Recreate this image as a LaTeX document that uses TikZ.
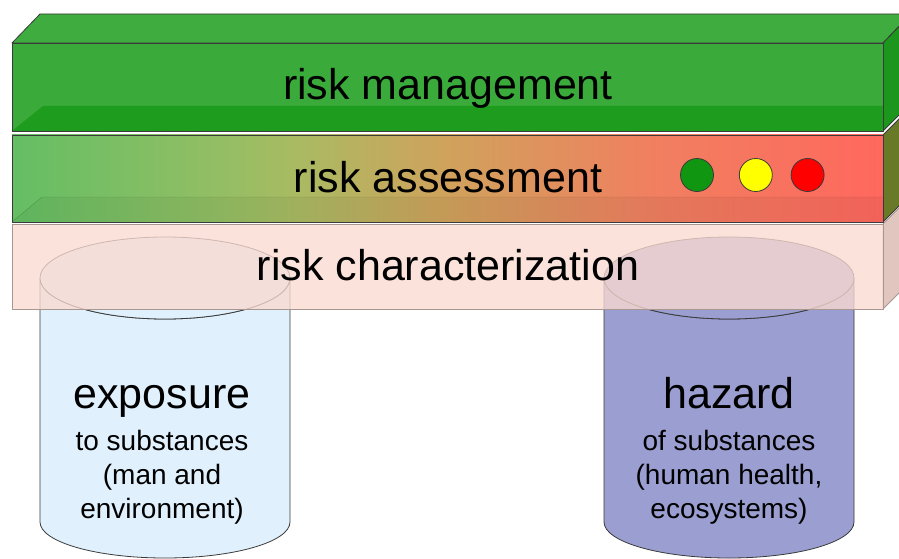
\documentclass[tikz,border=0pt]{standalone}
\usepackage{fontspec}
\setmainfont{Liberation Sans}
\usetikzlibrary{positioning}

\definecolor{edge}{RGB}{58,58,58}
\definecolor{mgmtFront}{RGB}{58,170,58}
\definecolor{mgmtTop}{RGB}{62,172,62}
\definecolor{mgmtBand}{RGB}{30,156,30}
\definecolor{mgmtSide}{RGB}{28,150,28}
\definecolor{assA}{RGB}{100,190,100}
\definecolor{assB}{RGB}{150,190,100}
\definecolor{assC}{RGB}{170,186,98}
\definecolor{assD}{RGB}{208,162,92}
\definecolor{assE}{RGB}{240,128,96}
\definecolor{assF}{RGB}{255,104,94}
\definecolor{assSide}{RGB}{104,122,40}
\definecolor{charFront}{RGB}{250,218,208}
\definecolor{charSide}{RGB}{216,184,174}
\definecolor{charEdge}{RGB}{168,150,144}
\definecolor{expFill}{RGB}{224,240,252}
\definecolor{hazFill}{RGB}{154,158,208}
\definecolor{lampGreen}{RGB}{16,150,16}
\definecolor{lampYellow}{RGB}{255,255,0}
\definecolor{lampRed}{RGB}{255,0,0}

% green to red along the assessment slab
\pgfdeclarehorizontalshading{assShade}{100bp}{color(0bp)=(assA); color(25bp)=(assA);
  color(37.5bp)=(assB); color(41.5bp)=(assC); color(50bp)=(assD); color(61.5bp)=(assE);
  color(75bp)=(assF); color(100bp)=(assF)}

\begin{document}
\begin{tikzpicture}[x=1pt, y=-1pt,
    face/.style={draw=edge, line width=0.8pt, line join=round},
    slabtext/.style={font=\fontsize{43}{50}\selectfont, inner sep=0pt, anchor=base},
    cyltitle/.style={font=\fontsize{43}{50}\selectfont, inner sep=0pt, anchor=base},
    cylsub/.style={font=\fontsize{28}{34}\selectfont, align=center, inner sep=0pt, anchor=north},
    lamp/.style={circle, draw=edge, line width=0.8pt, minimum size=33pt, inner sep=0pt}]
  \useasboundingbox (0,0) rectangle (899,559);

  % the two pillars
  \path[face, fill=expFill] (40,278) -- (40,522) arc[start angle=180, end angle=0, x radius=125, y radius=36]
    -- (290,278) arc[start angle=0, end angle=180, x radius=125, y radius=41] -- cycle;
  \path[face, fill=expFill] (165,278) ellipse[x radius=125, y radius=41];
  \path[face, fill=hazFill] (604,278) -- (604,522) arc[start angle=180, end angle=0, x radius=125, y radius=36]
    -- (854,278) arc[start angle=0, end angle=180, x radius=125, y radius=41] -- cycle;
  \path[face, fill=hazFill] (729,278) ellipse[x radius=125, y radius=41];

  % risk characterization slab
  \path[face, draw=charEdge, fill=charSide, fill opacity=0.8] (883,224) -- (911,196) -- (911,281) -- (883,309) -- cycle;
  \path[face, draw=charEdge, fill=charFront, fill opacity=0.78] (12,224) rectangle (883,309);

  % risk assessment slab
  \path[face, fill=assSide] (883,135) -- (911,107) -- (911,194) -- (883,222) -- cycle;
  \shade[shading=assShade] (12,135) rectangle (883,222);
  \fill[black, opacity=0.05] (12,222) -- (42,197) -- (883,197) -- (883,222) -- cycle;
  \draw[black, opacity=0.2] (12,222) -- (42,197) -- (883,197);
  \path[face] (12,135) rectangle (883,222);

  % risk management slab
  \path[face, fill=mgmtTop] (12,43) -- (40,14) -- (911,14) -- (883,43) -- cycle;
  \path[face, fill=mgmtSide] (883,43) -- (911,14) -- (911,103) -- (883,131) -- cycle;
  \path[face, fill=mgmtFront] (12,43) rectangle (883,131);
  \fill[mgmtBand] (12,131) -- (43,106) -- (883,106) -- (883,131) -- cycle;
  \path[face] (12,43) rectangle (883,131);

  % labels
  \node[slabtext] (mgmt) at (448,100) {risk management};
  \node[slabtext] (assess) at (448,192) {risk assessment};
  \node[slabtext] (charact) at (448,280) {risk characterization};

  \node[lamp, fill=lampGreen] (green) at (697,175) {};
  \node[lamp, fill=lampYellow, right=25pt of green] (yellow) {};
  \node[lamp, fill=lampRed, right=18pt of yellow] (red) {};

  \node[cyltitle] (expTitle) at (162,408) {exposure};
  \node[cylsub, below=22pt of expTitle.base] (expSub) {to substances\\(man and\\environment)};
  \node[cyltitle] (hazTitle) at (729,408) {hazard};
  \node[cylsub, below=22pt of hazTitle.base] (hazSub) {of substances\\(human health,\\ecosystems)};
\end{tikzpicture}
\end{document}
